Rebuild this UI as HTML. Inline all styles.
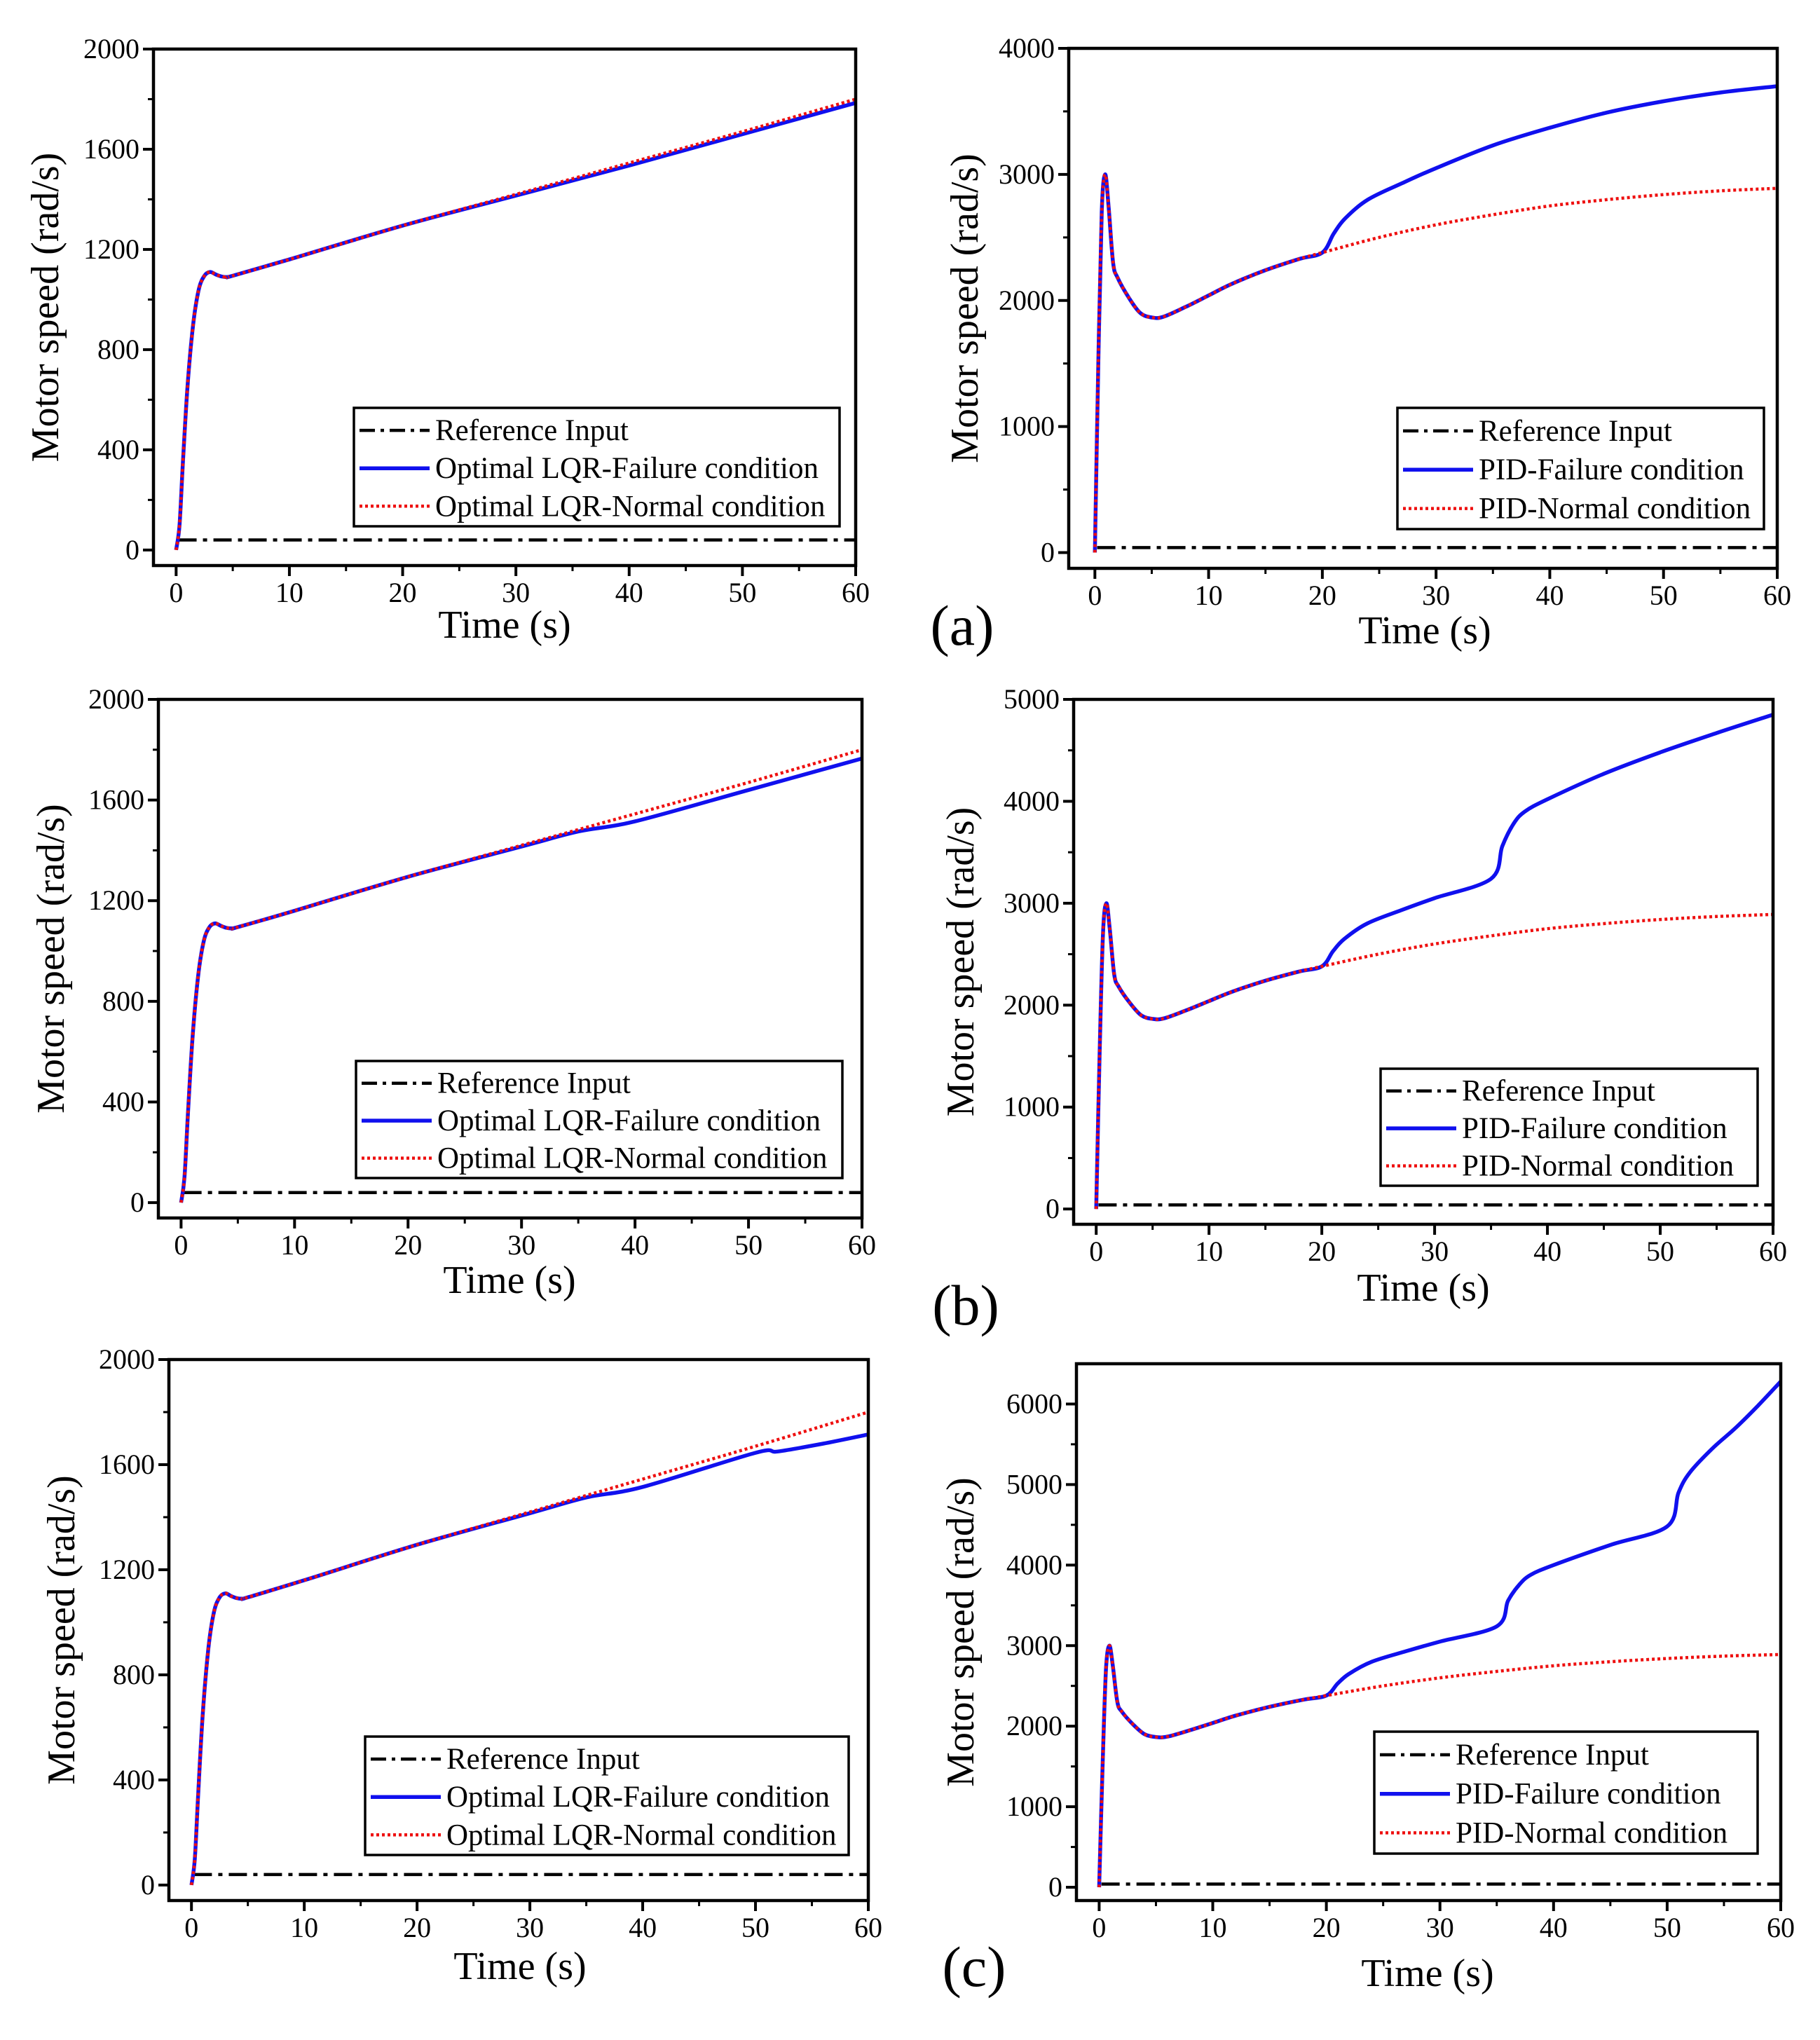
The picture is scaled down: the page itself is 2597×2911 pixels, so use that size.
<!DOCTYPE html>
<html><head><meta charset="utf-8">
<style>
html,body{margin:0;padding:0;background:#fff;}
svg, svg text{font-family:"Liberation Serif","Times New Roman",serif;}
svg{display:block;}
</style></head>
<body>
<svg id="fig" width="2597" height="2911" viewBox="0 0 2597 2911" xmlns="http://www.w3.org/2000/svg" font-family="Liberation Serif, serif">
<text x="1373" y="920" font-size="82" text-anchor="middle" font-family="Liberation Serif, serif">(a)</text>
<text x="1378" y="1890" font-size="82" text-anchor="middle" font-family="Liberation Serif, serif">(b)</text>
<text x="1390" y="2834" font-size="82" text-anchor="middle" font-family="Liberation Serif, serif">(c)</text>
</svg>
<script>
// ---- data ----
const refValue = 40;
const lqrNormalT = [0,0.3,0.6,1,1.5,2,2.5,3,3.5,4,4.5,5,10,20,30,40,50,60];
const lqrNormalV = [0,100,350,650,900,1040,1095,1110,1100,1092,1090,1095,1160,1295,1420,1545,1670,1800];
const lqrFailAT = [0,0.3,0.6,1,1.5,2,2.5,3,3.5,4,4.5,5,10,20,30,40,50,60];
const lqrFailAV = [0,100,350,650,900,1040,1095,1110,1100,1092,1090,1095,1160,1295,1415,1535,1660,1785];
const lqrFailBT = [0,0.3,0.6,1,1.5,2,2.5,3,3.5,4,4.5,5,10,20,30,35,40,50,60];
const lqrFailBV = [0,100,350,650,900,1040,1095,1110,1100,1092,1090,1095,1160,1295,1415,1475,1515,1640,1765];
const lqrFailCT = [0,0.3,0.6,1,1.5,2,2.5,3,3.5,4,4.5,5,10,20,30,35,40,50,52,56,60];
const lqrFailCV = [0,100,350,650,900,1040,1095,1110,1100,1092,1090,1095,1160,1295,1415,1475,1515,1645,1650,1680,1715];
const pidNormalT = [0,0.3,0.6,0.9,1.2,1.6,2,3,4,5,6,8,10,12,15,18,20,25,30,35,40,45,50,55,60];
const pidNormalV = [0,1500,2700,3000,2750,2300,2180,2020,1900,1865,1870,1950,2040,2130,2240,2330,2380,2500,2600,2680,2750,2800,2840,2870,2890];
const pidFailAT = [0,0.3,0.6,0.9,1.2,1.6,2,3,4,5,6,8,10,12,15,18,20,21,22,24,27,30,35,40,45,50,55,60];
const pidFailAV = [0,1500,2700,3000,2750,2300,2180,2020,1900,1865,1870,1950,2040,2130,2240,2330,2380,2530,2650,2800,2930,3050,3230,3370,3490,3580,3650,3700];
const pidFailBT = [0,0.3,0.6,0.9,1.2,1.6,2,3,4,5,6,8,10,12,15,18,20,21,22,24,27,30,35,36,37,38,40,45,50,55,60];
const pidFailBV = [0,1500,2700,3000,2750,2300,2180,2020,1900,1865,1870,1950,2040,2130,2240,2330,2380,2530,2650,2800,2930,3050,3240,3560,3780,3900,4020,4270,4480,4670,4850];
const pidFailCT = [0,0.3,0.6,0.9,1.2,1.6,2,3,4,5,6,8,10,12,15,18,20,21,22,24,27,30,35,36,37,38,40,45,50,51,52,54,56,58,60];
const pidFailCV = [0,1500,2700,3000,2750,2300,2180,2020,1900,1865,1870,1950,2040,2130,2240,2330,2380,2530,2650,2800,2930,3050,3240,3560,3760,3880,4000,4250,4480,4900,5150,5450,5700,5980,6280];
const xTicks = [0,10,20,30,40,50,60];
const yTicksLqr = [0,400,800,1200,1600,2000];
const yTicksPidA = [0,1000,2000,3000,4000];
const yTicksPidB = [0,1000,2000,3000,4000,5000];
const yTicksPidC = [0,1000,2000,3000,4000,5000,6000];
const lqrLabels = ["Reference Input","Optimal LQR-Failure condition","Optimal LQR-Normal condition"];
const pidLabels = ["Reference Input","PID-Failure condition","PID-Normal condition"];

const NS="http://www.w3.org/2000/svg";
const FF="Liberation Serif, serif";
const svg=document.getElementById('fig');
function mk(tag,attrs,parent){const e=document.createElementNS(NS,tag);for(const k in attrs)e.setAttribute(k,attrs[k]);if(tag==='text')e.setAttribute('font-family',FF);(parent||svg).appendChild(e);return e;}

const panels=[
 {id:'a-left',L:219,R:1221,T:70,B:807,xmin:-2,ymin:-62,ymax:2000,yt:yTicksLqr,ym:200,fT:lqrFailAT,fV:lqrFailAV,nT:lqrNormalT,nV:lqrNormalV,lab:lqrLabels,
  leg:[505,582,693,169],ytx:70,xtx:720,xty:910},
 {id:'a-right',L:1525,R:2536,T:69,B:811,xmin:-2.3,ymin:-125,ymax:4000,yt:yTicksPidA,ym:500,fT:pidFailAT,fV:pidFailAV,nT:pidNormalT,nV:pidNormalV,lab:pidLabels,
  leg:[1994,582,523,173],ytx:1382,xtx:2033,xty:918},
 {id:'b-left',L:226,R:1230,T:998,B:1738,xmin:-2,ymin:-61,ymax:2000,yt:yTicksLqr,ym:200,fT:lqrFailBT,fV:lqrFailBV,nT:lqrNormalT,nV:lqrNormalV,lab:lqrLabels,
  leg:[508,1514,694,167],ytx:78,xtx:727,xty:1845},
 {id:'b-right',L:1532,R:2530,T:998,B:1747,xmin:-2,ymin:-150,ymax:5000,yt:yTicksPidB,ym:500,fT:pidFailBT,fV:pidFailBV,nT:pidNormalT,nV:pidNormalV,lab:pidLabels,
  leg:[1970,1525,538,167],ytx:1376,xtx:2031,xty:1856},
 {id:'c-left',L:241,R:1239,T:1940,B:2712,xmin:-2,ymin:-59,ymax:2000,yt:yTicksLqr,ym:200,fT:lqrFailCT,fV:lqrFailCV,nT:lqrNormalT,nV:lqrNormalV,lab:lqrLabels,
  leg:[521,2478,690,169],ytx:93,xtx:742,xty:2824},
 {id:'c-right',L:1536,R:2541,T:1946,B:2712,xmin:-2,ymin:-165,ymax:6500,yt:yTicksPidC,ym:500,fT:pidFailCT,fV:pidFailCV,nT:pidNormalT,nV:pidNormalV,lab:pidLabels,
  leg:[1961,2471,547,174],ytx:1376,xtx:2037,xty:2834}
];

function pathFrom(T,V,sx,sy){
  const p=T.map((t,i)=>[sx(t),sy(V[i])]);
  let d='M'+p[0][0].toFixed(1)+','+p[0][1].toFixed(1);
  for(let i=0;i<p.length-1;i++){
    const p0=p[Math.max(0,i-1)],p1=p[i],p2=p[i+1],p3=p[Math.min(p.length-1,i+2)];
    const c1=[p1[0]+(p2[0]-p0[0])/6,p1[1]+(p2[1]-p0[1])/6];
    const c2=[p2[0]-(p3[0]-p1[0])/6,p2[1]-(p3[1]-p1[1])/6];
    d+='C'+c1[0].toFixed(1)+','+c1[1].toFixed(1)+' '+c2[0].toFixed(1)+','+c2[1].toFixed(1)+' '+p2[0].toFixed(1)+','+p2[1].toFixed(1);
  }
  return d;
}

panels.forEach(P=>{
  const g=mk('g',{});
  
  
  const sx=t=>P.L+(t-P.xmin)/(60-P.xmin)*(P.R-P.L);
  const sy=v=>P.B-(v-P.ymin)/(P.ymax-P.ymin)*(P.B-P.T);
  const ref=mk('line',{x1:sx(0.2),x2:P.R,y1:sy(refValue),y2:sy(refValue),stroke:'#000','stroke-width':4.5,'stroke-dasharray':'26 9 6 9'},g);
  
  
  const fl=mk('path',{d:pathFrom(P.fT,P.fV,sx,sy),fill:'none',stroke:'#1010ee','stroke-width':5.5},g);
  
  
  const nl=mk('path',{d:pathFrom(P.nT,P.nV,sx,sy),fill:'none',stroke:'#ee1010','stroke-width':4.5,'stroke-dasharray':'4 4'},g);
  
  
  const fr=mk('rect',{x:P.L,y:P.T,width:P.R-P.L,height:P.B-P.T,fill:'none',stroke:'#000','stroke-width':4.5},g);
  
  
  xTicks.forEach(t=>{
    const x=sx(t);
    mk('line',{x1:x,x2:x,y1:P.B,y2:P.B+15,stroke:'#000','stroke-width':4},g);
    const tl=mk('text',{x:x,y:P.B+52,'font-size':40,'text-anchor':'middle'},g);
    tl.textContent=t;
    
    
    if(t<60) mk('line',{x1:sx(t+5),x2:sx(t+5),y1:P.B,y2:P.B+8,stroke:'#000','stroke-width':3},g);
  });
  P.yt.forEach(v=>{
    const y=sy(v);
    mk('line',{x1:P.L-15,x2:P.L,y1:y,y2:y,stroke:'#000','stroke-width':4},g);
    const tl=mk('text',{x:P.L-20,y:y+13,'font-size':40,'text-anchor':'end'},g);
    tl.textContent=v;
    
    
  });
  for(let v=P.ym;v<P.ymax;v+=P.ym*2){
    if(P.yt.indexOf(v)<0){const y=sy(v);mk('line',{x1:P.L-8,x2:P.L,y1:y,y2:y,stroke:'#000','stroke-width':3},g);}
  }
  const xt=mk('text',{x:P.xtx,y:P.xty,'font-size':56,'text-anchor':'middle'},g);
  xt.textContent='Time (s)';
  
  
  const cy=(P.T+P.B)/2;
  const yt=mk('text',{x:P.ytx,y:cy,'font-size':56,'text-anchor':'middle',transform:'rotate(-90 '+P.ytx+' '+cy+')','dominant-baseline':'middle'},g);
  yt.textContent='Motor speed (rad/s)';
  
  
  const [lx,ly,lw,lh]=P.leg;
  const lg=mk('g',{},g);
  
  
  mk('rect',{x:lx,y:ly,width:lw,height:lh,fill:'#fff',stroke:'#000','stroke-width':3.5},lg);
  const styles=[{s:'#000',w:4.5,da:'22 8 5 8'},{s:'#1010ee',w:5.5,da:''},{s:'#ee1010',w:4.5,da:'4 4'}];
  for(let i=0;i<3;i++){
    const ry=ly+lh*(0.19+0.32*i);
    const ln=mk('line',{x1:lx+8,x2:lx+108,y1:ry,y2:ry,stroke:styles[i].s,'stroke-width':styles[i].w},lg);
    if(styles[i].da) ln.setAttribute('stroke-dasharray',styles[i].da);
    const tx=mk('text',{x:lx+116,y:ry+14,'font-size':43},lg);
    tx.textContent=P.lab[i];
    
    
  }
});
</script>
</body></html>
